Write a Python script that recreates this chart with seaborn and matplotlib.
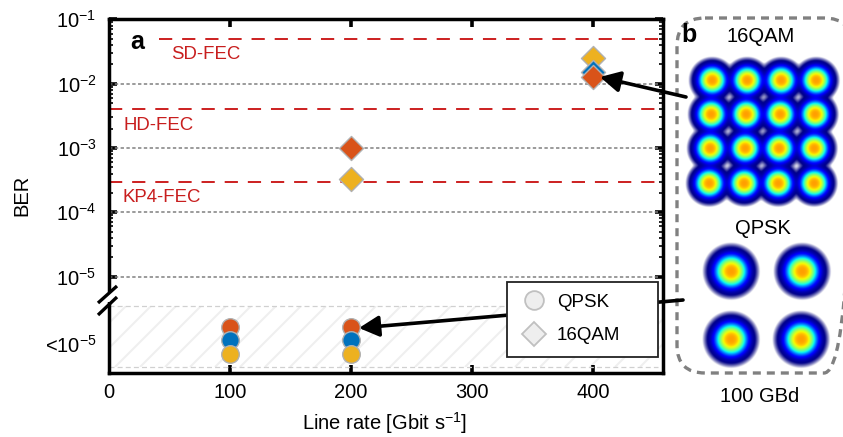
import numpy as np
import pandas as pd
import matplotlib
matplotlib.use("Agg")
import matplotlib.pyplot as plt
from matplotlib.lines import Line2D
from matplotlib.patches import FancyBboxPatch, Rectangle
from matplotlib.ticker import FixedLocator, NullFormatter
import seaborn as sns

# ---- data ----
rate_circle = [100, 100, 100, 200, 200, 200]
ber_circle = [10**-5.78, 10**-5.98, 10**-6.20, 10**-5.78, 10**-5.98, 10**-6.20]   # shown below the axis break
group_circle = ["a", "b", "c", "a", "b", "c"]
rate_diamond = [400, 400, 200, 400, 200]
ber_diamond = [0.0246, 0.0150, 3.3e-4, 0.0127, 1.0e-3]
group_diamond = ["c", "b", "c", "a", "a"]
fec_levels = [0.05, 4e-3, 3e-4]
decades = [1e-2, 1e-3, 1e-4, 1e-5]
xticks = [0, 100, 200, 300, 400]
yticks = [1e-1, 1e-2, 1e-3, 1e-4, 1e-5, 10**-6.04]
ylabels = ["10$^{-1}$", "10$^{-2}$", "10$^{-3}$", "10$^{-4}$", "10$^{-5}$", "<10$^{-5}$"]
palette = {"a": "#D95319", "b": "#0072BD", "c": "#EDB120"}
qam_x = [[712, 747, 781, 816], [711, 746, 780, 815], [710, 745, 779, 814], [709, 744, 778, 814]]
qam_y = [[80, 80, 80, 80], [114, 114, 114, 114], [148, 148, 148, 148], [183, 183, 183, 183]]
qpsk_x = [731, 802, 731, 801]
qpsk_y = [271, 271, 339, 339]

sns.set_style("white")
plt.rcParams["font.family"] = ["Liberation Sans", "DejaVu Sans"]
plt.rcParams["mathtext.fontset"] = "custom"
plt.rcParams["mathtext.rm"] = "Liberation Sans"
plt.rcParams["mathtext.default"] = "regular"
plt.rcParams["text.color"] = "black"
plt.rcParams["xtick.color"] = "black"
plt.rcParams["ytick.color"] = "black"
plt.rcParams["axes.labelcolor"] = "black"

W, H = 843, 437
fig = plt.figure(figsize=(W / 100, H / 100), dpi=100, facecolor="white")

def pixel_axes(z):
    a = fig.add_axes([0, 0, 1, 1], zorder=z)
    a.set_axis_off()
    a.patch.set_alpha(0)
    return a

bg = pixel_axes(0)
ax = fig.add_axes([109 / W, 1 - 373 / H, 554 / W, 353.7 / H], zorder=1)
ax.patch.set_alpha(0)
top = pixel_axes(2)

# hatched "below floor" band
clip = Rectangle((110, 306), 552, 61, transform=bg.transData)
for x0 in np.arange(40, 760, 25):
    ln, = bg.plot([x0, x0 + 61], [367, 306], color="#efefef", lw=1.5, solid_capstyle="butt")
    ln.set_clip_path(clip)
bg.set_xlim(0, W)
bg.set_ylim(H, 0)

df_c = pd.DataFrame({"rate": rate_circle, "ber": ber_circle, "g": group_circle})
df_d = pd.DataFrame({"rate": rate_diamond, "ber": ber_diamond, "g": group_diamond})

ax.set_yscale("log")
ax.set_xlim(0, 457.5)
ax.set_ylim(10**-6.5, 1e-1)

dec_end = 453
ax.hlines(decades, 0, dec_end, color="#808080", lw=1.1, linestyles=(0, (2.2, 1.6)), zorder=1)
for lev, start in zip(fec_levels, [41, 0, 0]):
    ax.hlines(lev, start, dec_end, color="#CC1F1F", lw=1.4, linestyles=(0, (6.8, 5.1)), zorder=1.5)
ax.hlines([10**-5.46, 10**-6.41], 0, dec_end, color="#d0d0d0", lw=0.9, linestyles=(0, (4, 2.5)), zorder=1)

for i in range(len(df_c)):
    sns.scatterplot(data=df_c.iloc[[i]], x="rate", y="ber", hue="g", palette=palette, marker="o",
                    s=160, edgecolor="#b0b0b0", linewidth=1.0, legend=False, ax=ax, zorder=3)
for i in range(len(df_d)):
    sns.scatterplot(data=df_d.iloc[[i]], x="rate", y="ber", hue="g", palette=palette, marker="D",
                    s=150, edgecolor="#b0b0b0", linewidth=1.0, legend=False, ax=ax, zorder=3)

ax.set_xticks(xticks)
ax.set_xticklabels([str(t) for t in xticks], fontsize=14.5)
ax.yaxis.set_major_locator(FixedLocator(yticks))
ax.set_yticklabels(ylabels, fontsize=14.5)
minor = [k * 10.0**e for e in range(-5, -1) for k in range(2, 10)]
ax.yaxis.set_minor_locator(FixedLocator(minor))
ax.yaxis.set_minor_formatter(NullFormatter())
ax.tick_params(axis="x", which="major", direction="in", top=True, bottom=True, length=6, width=2.6, pad=7, color="black")
ax.tick_params(axis="y", which="major", direction="in", left=True, right=True, length=6, width=2.6, pad=9, color="black")
ax.tick_params(axis="y", which="minor", direction="in", left=True, right=True, length=3, width=1.2, color="black")
ax.yaxis.get_major_ticks()[-1].tick1line.set_visible(False)
ax.yaxis.get_major_ticks()[-1].tick2line.set_visible(False)
ax.xaxis.get_major_ticks()[0].tick1line.set_visible(False)
ax.xaxis.get_major_ticks()[0].tick2line.set_visible(False)
ax.set_xlabel("")
ax.set_ylabel("")
ax.grid(False)
for s in ax.spines.values():
    s.set_visible(True)
    s.set_color("black")
    s.set_linewidth(2.5)

red = "#C81E1E"

# overlay in pixel coordinates
def constellation(xs, ys, scale, x0, x1, y0, y1):
    gx, gy = np.meshgrid(np.arange(x0, x1, 0.5), np.arange(y0, y1, 0.5))
    v = np.zeros_like(gx)
    for cx, cy in zip(xs, ys):
        v += 0.74 * np.exp(-(((gx - cx) ** 2 + (gy - cy) ** 2) / scale) ** 1.5)
    rgba = plt.get_cmap("jet")(np.clip(v, 0, 1))
    rgba[..., 3] = np.clip(np.log10(np.maximum(v, 1e-9) / 0.0004) / np.log10(0.012 / 0.0004), 0, 1)
    return rgba

qx = np.ravel(qam_x)
qy = np.ravel(qam_y)
top.imshow(constellation(qx, qy, 150, 680, 842, 42, 218), extent=(680, 842, 218, 42), aspect="auto", zorder=1,
           interpolation="bilinear")
top.imshow(constellation(qpsk_x, qpsk_y, 220, 695, 842, 235, 375), extent=(695, 842, 375, 235), aspect="auto", zorder=1,
           interpolation="bilinear")
top.set_xlim(0, W)
top.set_ylim(H, 0)

box = FancyBboxPatch((677 + 28, 18 + 28), 175 - 56, 355 - 56, boxstyle="round,pad=28,rounding_size=28",
                     fc="none", ec="#808080", lw=2.4, ls=(0, (2.4, 1.8)), zorder=2)
top.add_patch(box)

# axis-break marks
top.add_patch(Rectangle((105, 292), 8, 10, fc="white", ec="none", zorder=3))
for y_low, y_high in [(303, 286), (315, 297)]:
    top.plot([98, 117], [y_low, y_high], color="black", lw=2.4, solid_capstyle="butt", zorder=4)

# arrows
style = "-|>,head_length=0.8,head_width=0.42"
top.annotate("", xy=(600, 77), xytext=(686, 97),
             arrowprops=dict(arrowstyle=style, color="black", lw=2.6, shrinkA=0, shrinkB=0, mutation_scale=15), zorder=5)
top.annotate("", xy=(359, 328), xytext=(683, 300),
             arrowprops=dict(arrowstyle=style, color="black", lw=2.6, shrinkA=0, shrinkB=0, mutation_scale=15), zorder=3)

# legend box
handles = [
    Line2D([], [], marker="o", ls="", ms=13.5, mfc="#eeeeee", mec="#c0c0c0", mew=1.3, label="QPSK"),
    Line2D([], [], marker="D", ls="", ms=12, mfc="#eeeeee", mec="#c0c0c0", mew=1.3, label="16QAM"),
]
top.add_patch(Rectangle((507, 282), 151, 75, fc="white", ec="#222222", lw=1.3, zorder=4))
leg2 = top.legend(handles=handles, loc="center left", bbox_to_anchor=(508, 319), bbox_transform=top.transData,
                  fontsize=13.5, frameon=False, labelspacing=0.85, handletextpad=0.22, handlelength=2.0, borderaxespad=0)
leg2.set_zorder(5)

def label(x, y, s, **kw):
    top.text(x, y, s, ha=kw.pop("ha", "center"), va=kw.pop("va", "center"), **kw)

label(206, 54.5, "SD-FEC", color=red, fontsize=13.4)
label(158.5, 125, "HD-FEC", color=red, fontsize=13.4)
label(162, 197, "KP4-FEC", color=red, fontsize=13.4)
label(137, 42, "a", fontsize=18, fontweight="bold")
label(689, 35, "b", fontsize=18, fontweight="bold")
label(761, 36, "16QAM", fontsize=14.5)
label(763, 229, "QPSK", fontsize=14.5)
label(760, 396, "100 GBd", fontsize=14.5)
label(385, 423, "Line rate [Gbit s$^{-1}$]", fontsize=14.5)
label(22, 195, "BER", fontsize=14.5, rotation=90)

fig.savefig("out.png", dpi=100)
